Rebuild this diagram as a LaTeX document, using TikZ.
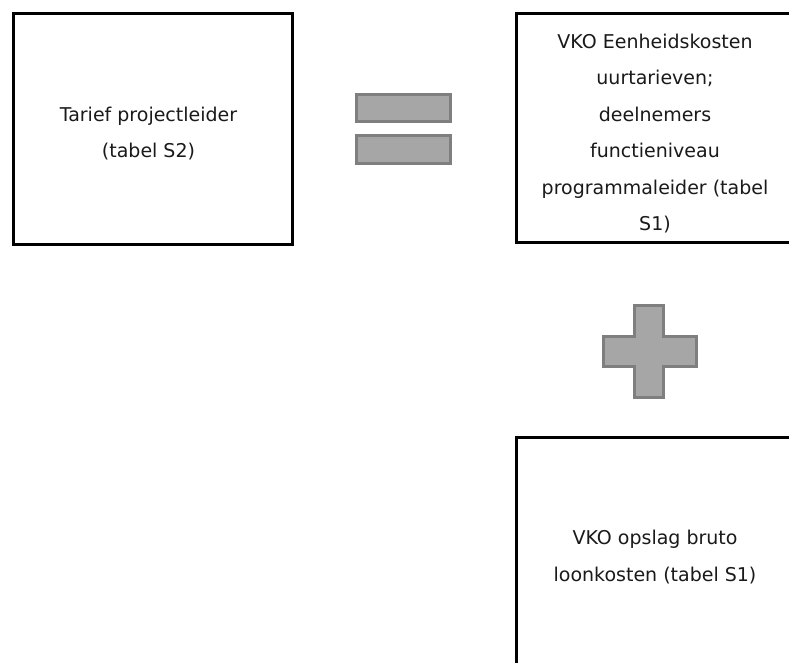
\documentclass[tikz,border=0pt]{standalone}
\usepackage{fontspec}
\setmainfont{DejaVu Sans}
\usepackage{xcolor}
\usetikzlibrary{positioning}
\definecolor{signfill}{HTML}{A6A6A6}
\definecolor{signline}{HTML}{7F7F7F}
\definecolor{txt}{HTML}{1A1A1A}

\begin{document}
\begin{tikzpicture}[x=1pt,y=-1pt,
    box/.style={draw=black,line width=3pt,inner sep=0pt},
    boxtext/.style={align=center,text=txt,inner sep=0pt,
      font=\fontsize{19pt}{36.5pt}\selectfont},
    sign/.style={fill=signfill,draw=signline,line width=3pt}]
  \clip (0,0) rectangle (789,662);
  \fill[white] (0,0) rectangle (789,662);

  \node[box,minimum width=279pt,minimum height=231pt] (tarief) at (152.5,128.5) {};
  \node[box,minimum width=278pt,minimum height=229pt] (eenheid) at (655,127.5) {};
  \node[box,minimum width=278pt,minimum height=240pt] (opslag) at (655,557) {};

  \node[boxtext] (tariefTekst) at ([xshift=-4pt,yshift=-5pt]tarief.center)
    {Tarief projectleider\\(tabel S2)};
  \node[boxtext] (eenheidTekst) at ([yshift=-6pt]eenheid.center)
    {VKO Eenheidskosten\\uurtarieven;\\deelnemers\\functieniveau\\programmaleider (tabel\\S1)};
  \node[boxtext] (opslagTekst) at (opslag.center)
    {VKO opslag bruto\\loonkosten (tabel S1)};

  % is gelijk aan
  \draw[sign] (356.5,94.5) rectangle (450.5,121.5);
  \draw[sign] (356.5,135.5) rectangle (450.5,163.5);

  % plus
  \draw[sign] (634.5,305.5) -- (663.5,305.5) -- (663.5,336.5) -- (696.5,336.5)
    -- (696.5,366.5) -- (663.5,366.5) -- (663.5,397.5) -- (634.5,397.5)
    -- (634.5,366.5) -- (603.5,366.5) -- (603.5,336.5) -- (634.5,336.5) -- cycle;
\end{tikzpicture}
\end{document}
